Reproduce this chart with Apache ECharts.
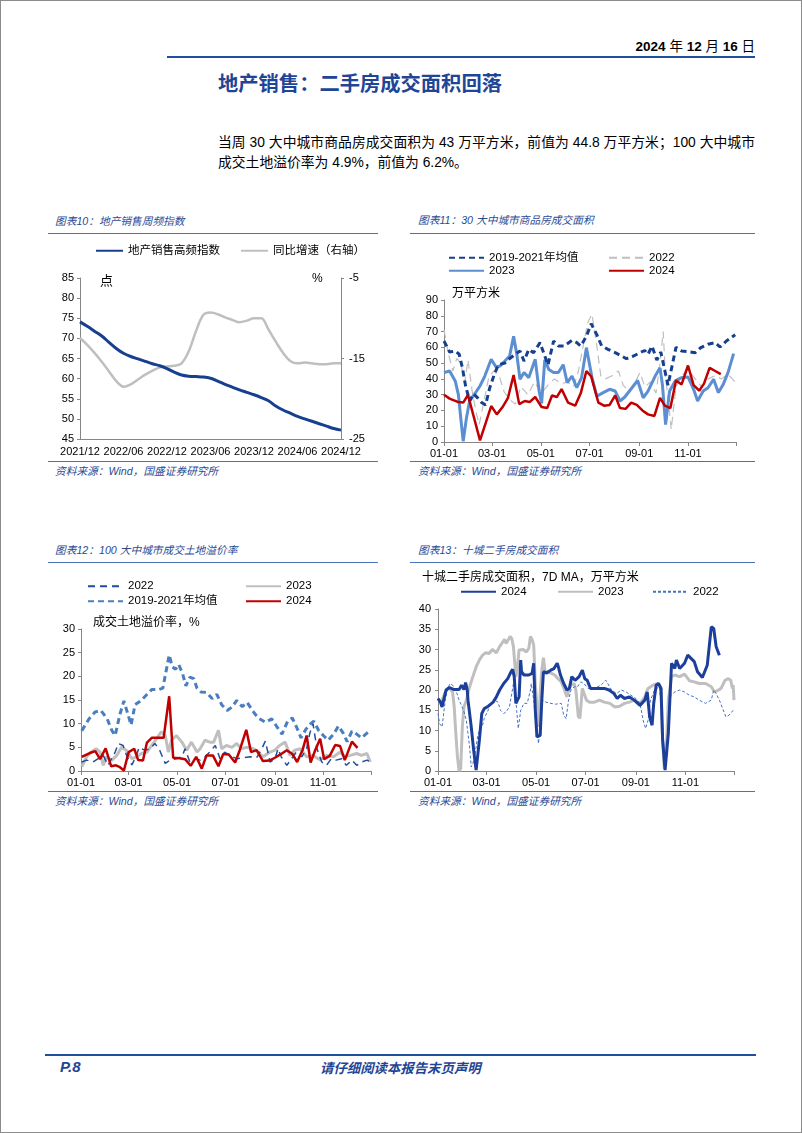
<!DOCTYPE html>
<html><head><meta charset="utf-8"><title>地产销售：二手房成交面积回落</title>
<script src="https://cdn.jsdelivr.net/npm/echarts@6.0.0/dist/echarts.min.js"></script>
<style>
html,body{margin:0;padding:0;background:#fff;width:802px;height:1133px;overflow:hidden;}
body{position:relative;font-family:'Liberation Sans','Noto Sans CJK SC',sans-serif;color:#000;}
#frame{position:absolute;left:0;top:0;width:802px;height:1133px;box-sizing:border-box;border:1px solid #8c8c8c;pointer-events:none;z-index:10;}
.t{position:absolute;white-space:nowrap;}
.rule{position:absolute;height:0;}
.cap{position:absolute;white-space:nowrap;font-style:italic;font-size:10.7px;line-height:14px;color:#2B4A94;font-family:'Liberation Sans','Noto Sans CJK SC',sans-serif;}
.chart{position:absolute;}
</style></head><body>
<div id="frame"></div>
<div class="t" style="right:47px;top:38px;font-size:13.5px;line-height:18px;"><b>2024</b> 年 <b>12</b> 月 <b>16</b> 日</div>
<div class="rule" style="left:167px;top:56px;width:588px;border-top:2px solid #1F4E9C;"></div>
<div class="t" style="left:218px;top:70px;font-size:20.3px;line-height:24px;font-weight:bold;color:#1F4596;font-family:'Noto Sans CJK SC',sans-serif;">地产销售：二手房成交面积回落</div>
<div class="t" style="left:218px;top:133px;width:537px;font-size:13.8px;line-height:20px;text-align:justify;text-align-last:justify;">当周 30 大中城市商品房成交面积为 43 万平方米，前值为 44.8 万平方米；100 大中城市</div>
<div class="t" style="left:218px;top:153px;font-size:13.8px;line-height:20px;">成交土地溢价率为 4.9%，前值为 6.2%。</div>

<div class="cap" style="left:55px;top:214px;">图表10：地产销售周频指数</div>
<div class="rule" style="left:48px;top:233px;width:330px;border-top:1.5px solid #4A72B8;"></div>
<div class="rule" style="left:48px;top:461px;width:330px;border-top:1.5px solid #4A72B8;"></div>
<div class="cap" style="left:55px;top:464px;">资料来源：Wind，国盛证券研究所</div>

<div class="cap" style="left:418px;top:213px;">图表11：30 大中城市商品房成交面积</div>
<div class="rule" style="left:410px;top:233px;width:345px;border-top:1.5px solid #4A72B8;"></div>
<div class="rule" style="left:410px;top:461px;width:345px;border-top:1.5px solid #4A72B8;"></div>
<div class="cap" style="left:418px;top:464px;">资料来源：Wind，国盛证券研究所</div>

<div class="cap" style="left:55px;top:543px;">图表12：100 大中城市成交土地溢价率</div>
<div class="rule" style="left:48px;top:562px;width:330px;border-top:1.5px solid #4A72B8;"></div>
<div class="rule" style="left:48px;top:791px;width:330px;border-top:1.5px solid #4A72B8;"></div>
<div class="cap" style="left:55px;top:794px;">资料来源：Wind，国盛证券研究所</div>

<div class="cap" style="left:418px;top:543px;">图表13：十城二手房成交面积</div>
<div class="rule" style="left:410px;top:562px;width:345px;border-top:1.5px solid #4A72B8;"></div>
<div class="rule" style="left:410px;top:791px;width:345px;border-top:1.5px solid #4A72B8;"></div>
<div class="cap" style="left:418px;top:794px;">资料来源：Wind，国盛证券研究所</div>

<div id="c10" class="chart" style="left:40px;top:238px;width:340px;height:222px;"></div>
<div id="c11" class="chart" style="left:405px;top:238px;width:350px;height:222px;"></div>
<div id="c12" class="chart" style="left:40px;top:566px;width:340px;height:224px;"></div>
<div id="c13" class="chart" style="left:405px;top:566px;width:350px;height:224px;"></div>

<div class="rule" style="left:45px;top:1054px;width:711px;border-top:2px solid #1F4E9C;"></div>
<div class="t" style="left:60px;top:1058px;font-size:15px;line-height:18px;font-weight:bold;font-style:italic;color:#1F4596;">P.8</div>
<div class="t" style="left:320px;top:1058px;font-size:13.4px;line-height:18px;font-weight:bold;font-style:italic;color:#1F4596;font-family:'Noto Sans CJK SC',sans-serif;">请仔细阅读本报告末页声明</div>

<script>
// ---------------- Chart 10 data ----------------
const c10Months = ['2021/12','2022/01','2022/02','2022/03','2022/04','2022/05','2022/06','2022/07','2022/08','2022/09','2022/10','2022/11','2022/12',
  '2023/01','2023/02','2023/03','2023/04','2023/05','2023/06','2023/07','2023/08','2023/09','2023/10','2023/11','2023/12',
  '2024/01','2024/02','2024/03','2024/04','2024/05','2024/06','2024/07','2024/08','2024/09','2024/10','2024/11','2024/12'];
const c10Index = [74.1,73.0,71.8,70.6,69.0,67.5,66.3,65.5,64.9,64.3,63.7,63.2,62.5,
  61.6,60.9,60.6,60.5,60.4,60.1,59.4,58.6,57.9,57.2,56.6,56.0,
  55.3,54.5,53.2,52.2,51.4,50.6,50.0,49.4,48.8,48.2,47.6,47.2];
const c10YoY = [-12.45,-13.3,-14.3,-15.4,-16.6,-17.8,-18.5,-18.2,-17.6,-17.0,-16.5,-16.1,-16.0,
  -15.9,-15.6,-14.1,-11.6,-9.6,-9.3,-9.5,-9.9,-10.2,-10.5,-10.3,-10.0,
  -10.0,-11.4,-12.9,-14.3,-15.3,-15.6,-15.5,-15.6,-15.7,-15.7,-15.6,-15.6];

// ---------------- Shared daily axis ticks ----------------
const monthTicks = ['01-01','03-01','05-01','07-01','09-01','11-01'];

// ---------------- Chart 11 data (万平方米) ----------------
const c11Avg = [['01-01',64],['01-08',57],['01-15',57.7],['01-20',55.6],['01-24',47],['01-28',35.5],['02-02',26],['02-07',30.5],['02-12',28],['02-17',25],['02-22',23.5],['02-27',34],['03-04',43],['03-09',49],['03-17',50],['03-23',52.8],['03-30',55.6],['04-05',57.7],['04-10',51.3],['04-16',58.7],['04-22',56.6],['04-30',63],['05-10',48.8],['05-17',64],['05-23',60.8],['05-30',60.8],['06-09',64.4],['06-15',63],['06-20',60.8],['06-27',67],['07-03',75],['07-10',68],['07-16',61],['07-24',58.7],['08-02',56.6],['08-10',54.5],['08-16',52.8],['08-25',54.5],['09-02',56.6],['09-08',58],['09-12',55.6],['09-17',60.8],['09-23',52],['09-28',57],['10-07',36],['10-17',60],['10-24',57.7],['11-01',57.3],['11-10',56.6],['11-17',59.8],['11-26',62],['12-05',63],['12-11',60.2],['12-19',64],['12-30',68]];
const c11Y2022 = [['01-01',71],['01-07',55],['01-12',45],['01-17',53],['01-22',50],['01-27',38],['01-31',52],['02-05',33],['02-10',19],['02-14',11],['02-20',26],['02-26',41],['03-03',45],['03-10',42],['03-16',32],['03-23',27],['03-30',24],['04-06',35],['04-15',30],['04-23',38],['05-02',31],['05-10',36],['05-18',40],['05-26',37],['06-04',38],['06-11',35],['06-17',45],['06-23',61],['06-29',76],['07-04',81],['07-10',61],['07-15',42],['07-21',40],['07-29',42],['08-06',45],['08-12',36],['08-19',32],['08-27',38],['09-02',44],['09-08',35],['09-15',38],['09-22',31],['09-27',50],['10-01',70],['10-04',40],['10-07',29],['10-11',8],['10-17',35],['10-24',42],['11-01',46],['11-10',40],['11-18',35],['11-26',40],['12-05',42],['12-13',40],['12-21',43],['12-30',38]];
const c11Y2023 = [['01-01',44],['01-08',45],['01-15',38.7],['01-19',30],['01-22',15],['01-25',0.5],['01-29',15],['02-02',26],['02-09',31],['02-15',35.5],['02-21',41.8],['02-29',52.4],['03-06',47.5],['03-11',48.2],['03-17',51.3],['03-23',54.5],['03-28',67],['04-01',55.6],['04-05',39.7],['04-10',44],['04-16',40.8],['04-24',52.4],['04-29',32],['05-02',24.5],['05-06',52],['05-11',46],['05-17',44],['05-23',44],['05-29',49],['06-03',37.6],['06-09',41.8],['06-15',34.4],['06-21',40.8],['06-27',59.8],['07-04',40.8],['07-10',29],['07-18',31.3],['07-26',33.4],['08-02',32.3],['08-08',26],['08-14',28.5],['08-23',34.4],['08-30',39],['09-06',28],['09-12',32.3],['09-21',41.8],['09-27',47],['09-30',36.5],['10-04',11],['10-09',32.3],['10-16',38.7],['10-24',40.8],['11-01',41.2],['11-08',33.4],['11-13',26],['11-20',32.3],['11-26',34.4],['12-03',39.7],['12-09',31.3],['12-15',36.5],['12-21',44],['12-28',56]];
const c11Y2024 = [['01-01',30],['01-08',27.5],['01-19',25.3],['01-25',25],['01-31',29.8],['02-15',1],['02-29',22.8],['03-07',17.5],['03-14',22],['03-21',28],['03-28',42.5],['04-04',24],['04-11',26],['04-17',25.3],['04-24',28.5],['05-02',22.2],['05-09',21.5],['05-15',29.5],['05-21',28.5],['05-27',33.5],['06-04',25],['06-13',23],['06-20',31],['06-27',45],['07-03',41.5],['07-12',25],['07-19',23],['07-26',23.5],['08-02',29.5],['08-08',21.5],['08-15',21],['08-22',25],['08-29',23.5],['09-05',20],['09-12',17.5],['09-20',16.5],['09-27',28],['10-03',23],['10-10',21.5],['10-17',39],['10-24',36.5],['11-01',48.5],['11-08',36],['11-15',32.5],['11-21',37],['11-28',47],['12-05',45],['12-12',43]];

// ---------------- Chart 12 data (%) ----------------
const c12Y2022 = [['01-02',1.9],['01-08',2.3],['01-16',1.9],['01-29',3.3],['02-04',1.2],['02-13',4],['02-17',5.8],['02-23',5.4],['02-28',3],['03-05',1.3],['03-11',3.3],['03-14',5],['03-21',4.4],['03-28',4.7],['04-03',5.8],['04-09',4.4],['04-16',1.6],['04-22',2.3],['04-30',2.6],['05-07',3],['05-11',4.7],['05-17',1.9],['05-24',2.6],['05-30',2.3],['06-05',3],['06-11',4],['06-18',5.4],['06-24',2.6],['06-30',4],['07-06',3.3],['07-15',2.6],['07-23',2.8],['08-01',3],['08-09',2.8],['08-15',4.5],['08-20',6.3],['08-26',1.9],['09-01',2.5],['09-05',4.7],['09-09',3],['09-16',1.2],['09-22',2.6],['09-28',4],['10-05',3],['10-11',4.7],['10-15',8],['10-19',10],['10-24',4.7],['10-30',1.9],['11-05',1.2],['11-11',2.6],['11-17',2.3],['11-24',2.6],['11-30',1.2],['12-07',2.3],['12-13',1.2],['12-19',1.9],['12-26',2.3],['12-30',1.9]];
const c12Y2023 = [['01-02',0.9],['01-08',3],['01-14',4],['01-20',4.7],['01-25',4],['01-29',1.2],['02-02',3],['02-09',2.3],['02-15',3.3],['02-21',5],['02-27',4.4],['03-05',2.6],['03-11',3],['03-17',3.7],['03-24',4],['03-30',5.4],['04-05',6.8],['04-11',8.3],['04-16',7.5],['04-20',4],['04-24',6.5],['04-30',7.5],['05-07',6.1],['05-13',4.4],['05-19',6.1],['05-26',4],['05-30',4.7],['06-05',6.5],['06-11',6.1],['06-16',6.1],['06-22',8.6],['06-26',4.7],['07-02',5.4],['07-09',5],['07-15',5.8],['07-21',4.7],['07-27',5],['08-05',4.7],['08-11',4],['08-17',3],['08-26',4],['09-01',4.4],['09-07',5.4],['09-14',6.1],['09-20',3.3],['09-26',4.4],['10-03',4.7],['10-11',3],['10-19',3.3],['10-28',2.3],['11-05',3.3],['11-14',3],['11-22',4],['11-28',3],['12-05',3.3],['12-13',3.7],['12-19',3.3],['12-26',3.7],['12-30',1.9]];
const c12Avg = [['01-02',8.5],['01-11',11],['01-19',12.5],['01-26',12.8],['02-03',11],['02-09',8.5],['02-13',7.5],['02-19',12],['02-24',14.8],['02-29',12],['03-04',9.7],['03-09',14],['03-16',14.8],['03-23',16],['03-30',17.2],['04-08',17.2],['04-13',17.5],['04-17',21],['04-21',24.5],['04-25',22],['04-29',21.5],['05-03',22.5],['05-08',20.5],['05-12',18],['05-17',19.8],['05-22',19.5],['05-26',17.5],['05-31',16.7],['06-07',16.6],['06-14',15.3],['06-20',16.2],['06-26',14],['07-03',12.8],['07-09',13.5],['07-15',14.9],['07-22',13.6],['07-28',14.5],['08-05',12.5],['08-11',11.2],['08-20',10.3],['08-28',11],['09-03',9.5],['09-10',7.8],['09-17',10.5],['09-23',11.2],['09-29',9],['10-04',7],['10-10',8.8],['10-16',10],['10-20',10.5],['10-26',8.6],['11-01',7.5],['11-07',6.5],['11-14',7.8],['11-20',9.5],['11-26',8],['12-01',6.2],['12-07',8.4],['12-13',7.8],['12-19',7],['12-28',8.3]];
const c12Y2024 = [['01-02',3],['01-12',3.8],['01-19',4.2],['01-25',2.5],['02-01',4.8],['02-08',1],['02-14',1.2],['02-19',0.8],['02-24',0.1],['03-01',4],['03-08',4.7],['03-13',2.3],['03-19',2.2],['03-24',6],['03-30',7],['04-06',7],['04-14',7],['04-21',15.8],['04-26',2.8],['05-04',2.7],['05-11',2.5],['05-18',1.1],['05-25',3],['06-01',0.5],['06-07',3.3],['06-15',3.3],['06-22',1],['06-28',3.6],['07-05',3.5],['07-13',1.8],['07-19',4.5],['07-27',8.7],['08-02',4],['08-09',4.4],['08-17',2.1],['08-25',2.2],['09-01',2.8],['09-08',3.5],['09-16',4.4],['09-23',3.6],['09-29',1.9],['10-06',4.5],['10-11',7.5],['10-16',1.8],['10-22',4.5],['10-28',6.8],['11-02',2.5],['11-09',3.2],['11-16',5.5],['11-22',5.3],['11-28',2.3],['12-07',6.2],['12-14',4.9]];

// ---------------- Chart 13 data (万平方米, 7D MA) ----------------
const c13Y2024 = [['01-01',17.9],['01-04',17],['01-06',15.8],['01-08',17.5],['01-11',20],['01-15',20.6],['01-21',20.1],['01-27',20.1],['01-30',21.2],['02-02',20.1],['02-04',21.8],['02-06',20.1],['02-07',17.5],['02-11',10.9],['02-14',5.1],['02-17',0.2],['02-19',0.6],['02-21',7.6],['02-24',14.2],['02-27',15.4],['03-03',16],['03-09',17],['03-13',18.3],['03-17',20],['03-22',21.6],['03-27',22.8],['03-31',24.5],['04-02',25.1],['04-04',23.3],['04-06',16.7],['04-08',17.5],['04-10',18.3],['04-12',27.4],['04-13',24.5],['04-16',23.7],['04-22',23.7],['04-26',24.1],['04-28',26.6],['04-30',15],['05-02',8.4],['05-06',8.8],['05-08',17.5],['05-10',24.5],['05-14',24.2],['05-19',24.9],['05-23',25.3],['05-27',26.6],['05-29',25.3],['05-31',23.7],['06-04',21.6],['06-08',20],['06-11',20.4],['06-14',23.3],['06-18',22.4],['06-23',23.3],['06-27',24.9],['06-30',22.8],['07-03',22.4],['07-07',20.4],['07-16',20.4],['07-24',20.4],['07-30',20],['08-05',19.1],['08-09',17.9],['08-13',18.7],['08-18',17.9],['08-24',18.3],['08-30',17.5],['09-06',16.2],['09-12',17.5],['09-15',19.5],['09-18',13.4],['09-21',11.3],['09-23',16.7],['09-26',21.2],['09-29',21.6],['10-02',20.4],['10-04',7.6],['10-07',0.2],['10-11',9.2],['10-15',26.6],['10-19',25.3],['10-21',27.4],['10-25',25.3],['10-31',26.6],['11-04',28.6],['11-08',27.8],['11-12',27],['11-16',24.5],['11-22',23.1],['11-28',26.1],['12-03',35.6],['12-06',35.2],['12-09',30.7],['12-13',28.6]];
const c13Y2023 = [['01-05',17],['01-11',20],['01-15',20.5],['01-19',19.5],['01-21',15.8],['01-23',9.2],['01-25',3.5],['01-27',0],['01-29',0.6],['01-31',10.9],['02-02',15.8],['02-05',17.5],['02-09',20.8],['02-13',23.3],['02-17',25.7],['02-21',27.4],['02-25',28.6],['02-29',29.2],['03-04',29],['03-08',30],['03-13',29.2],['03-17',30.7],['03-21',31.9],['03-23',32.5],['03-25',31.5],['03-27',31.9],['03-30',33.2],['04-01',32.7],['04-03',30.7],['04-06',23.3],['04-08',25.7],['04-10',29.9],['04-15',30],['04-19',29.4],['04-22',30.3],['04-24',33.2],['04-26',32.5],['04-28',31.1],['04-30',21.6],['05-02',15.8],['05-04',10.9],['05-06',19.1],['05-08',24.9],['05-10',28],['05-12',24.5],['05-15',24.5],['05-20',24.1],['05-24',23.7],['05-28',22.8],['06-01',22],['06-05',20],['06-08',18.3],['06-11',20.4],['06-13',21.2],['06-17',21.6],['06-19',20],['06-22',13.5],['06-24',13],['06-27',20.4],['07-02',17.5],['07-06',17],['07-12',17],['07-18',17.5],['07-24',17],['07-31',16.7],['08-06',15.8],['08-12',16],['08-18',16.7],['08-24',17],['08-30',17.5],['09-06',16.7],['09-12',18.3],['09-16',20.4],['09-22',21.2],['09-28',21.6],['10-02',20.4],['10-04',7.6],['10-06',0.6],['10-09',7.6],['10-11',17.5],['10-15',23.3],['10-19',23.7],['10-25',23.3],['10-31',23.9],['11-06',22.3],['11-12',22],['11-18',21.6],['11-26',21.6],['12-03',20.8],['12-07',19.5],['12-11',19.9],['12-15',20.4],['12-20',22.4],['12-24',22.8],['12-27',22.4],['12-29',20.4],['12-30',21.2],['12-31',17.5]];
const c13Y2022 = [['01-01',14.2],['01-03',11.7],['01-06',10.9],['01-08',11.3],['01-10',17.5],['01-13',20.4],['01-16',21.6],['01-19',21.2],['01-23',20],['01-27',17.5],['01-30',16.2],['02-02',14.6],['02-05',12.5],['02-07',9.2],['02-09',5.9],['02-11',1],['02-13',1.8],['02-15',3.5],['02-17',5.9],['02-19',8.8],['02-22',10.5],['02-25',11.3],['02-27',13],['03-02',14.6],['03-06',16.7],['03-11',17.5],['03-15',17],['03-18',15],['03-22',14.2],['03-25',14.6],['03-29',15.8],['04-01',19.1],['04-03',21.6],['04-05',20],['04-07',15],['04-09',10.5],['04-12',15],['04-16',16.7],['04-20',16.7],['04-24',20],['04-25',21.6],['04-28',17.5],['05-01',10.9],['05-04',6.8],['05-06',11.7],['05-09',17.5],['05-13',17],['05-19',16.7],['05-25',16.5],['06-01',16.7],['06-04',13.8],['06-07',12.9],['06-10',17.5],['06-13',20],['06-17',20.8],['06-21',20.8],['06-25',22],['06-29',21.6],['07-04',20.4],['07-12',20.4],['07-20',21.2],['07-26',22.4],['08-02',20],['08-08',19.1],['08-14',20],['08-20',19.5],['08-26',18.7],['09-01',17.9],['09-06',16.7],['09-10',12.5],['09-13',10.5],['09-16',12.5],['09-19',17.5],['09-24',20],['09-30',20.8],['10-03',15],['10-06',4.3],['10-07',1],['10-11',10.9],['10-14',18.7],['10-19',19.5],['10-25',20],['10-31',19.5],['11-06',18.7],['11-12',18.3],['11-18',17.5],['11-26',16.7],['12-03',17.5],['12-06',20],['12-09',19.1],['12-13',17.5],['12-17',15.4],['12-21',13.4],['12-25',13.8],['12-30',15]];

// ---------------- helpers ----------------
const FONT = "'Liberation Sans','Noto Sans CJK SC',sans-serif";
const AX = '#868686';
const NAVY = '#173F8F';
const RED = '#C00000';
const GRAY = '#BFBFBF';
const LBL = 11;

// calendar categories MM-DD for a full (leap) year, used as the x-axis scale
const dayCats = [];
for (let d = new Date(Date.UTC(2024, 0, 1)); d.getUTCFullYear() === 2024; d.setUTCDate(d.getUTCDate() + 1)) {
  dayCats.push(String(d.getUTCMonth() + 1).padStart(2, '0') + '-' + String(d.getUTCDate()).padStart(2, '0'));
}

function leg(name, left, top, w) {
  return {data: [name], left: left, top: top, itemWidth: w || 35, itemHeight: 14, itemGap: 0, padding: 0,
    selectedMode: false, itemStyle: {opacity: 0, borderWidth: 0},
    textStyle: {color: '#000', fontSize: 11.5, fontFamily: FONT}};
}
function txt(s, left, top, size) {
  return {type: 'text', left: left, top: top, silent: true, style: {text: s, fill: '#000', font: size + 'px ' + FONT}};
}
function line(name, data, color, width, dash, z) {
  return {name: name, type: 'line', data: data, symbol: 'none', showSymbol: false, smooth: false,
    lineStyle: {color: color, width: width, type: dash || 'solid', cap: 'butt'}, itemStyle: {color: color},
    z: z || 2, emphasis: {disabled: true}};
}
function valAxis(min, max, interval, pos, margin) {
  return {type: 'value', min: min, max: max, interval: interval, position: pos || 'left',
    axisLine: {show: true, lineStyle: {color: AX, width: 1}},
    axisTick: {show: true, length: 3, lineStyle: {color: AX}},
    axisLabel: {color: '#000', fontSize: LBL, fontFamily: FONT, margin: margin || 6},
    splitLine: {show: false}};
}
function dayAxis() {
  const isTick = (i, v) => monthTicks.indexOf(v) >= 0;
  return {type: 'category', data: dayCats, boundaryGap: false,
    axisLine: {show: true, lineStyle: {color: AX, width: 1}},
    axisTick: {show: true, length: 4, interval: (i, v) => isTick(i, v) || i === dayCats.length - 1, lineStyle: {color: AX}},
    axisLabel: {interval: isTick, color: '#000', fontSize: LBL, fontFamily: FONT, margin: 6},
    splitLine: {show: false}};
}

// ---------------- Chart 10 ----------------
echarts.init(document.getElementById('c10')).setOption({
  animation: false,
  grid: {left: 40, top: 40, width: 261, height: 161},
  legend: [leg('地产销售高频指数', 55, 7, 27), leg('同比增速（右轴）', 200, 7, 27)],
  xAxis: {type: 'category', data: c10Months, boundaryGap: false,
    axisLine: {lineStyle: {color: AX}}, axisTick: {show: false},
    axisLabel: {interval: 5, color: '#000', fontSize: 11, fontFamily: FONT, margin: 7}},
  yAxis: [valAxis(45, 85, 5, 'left', 6), valAxis(-25, -5, 10, 'right', 8)],
  graphic: [txt('点', 60, 37, 13), txt('%', 272, 35, 12)],
  series: [
    Object.assign(line('同比增速（右轴）', c10YoY, GRAY, 2.5), {yAxisIndex: 1, smooth: 0.35}),
    Object.assign(line('地产销售高频指数', c10Index, NAVY, 3), {smooth: 0.35, z: 3})
  ]
});

// ---------------- Chart 11 ----------------
echarts.init(document.getElementById('c11')).setOption({
  animation: false,
  grid: {left: 39, top: 62, width: 292, height: 142},
  legend: [leg('2019-2021年均值', 43, 14), leg('2022', 203, 14), leg('2023', 43, 27), leg('2024', 203, 27)],
  xAxis: dayAxis(),
  yAxis: valAxis(0, 90, 10),
  graphic: [txt('万平方米', 47, 50, 12)],
  series: [
    line('2022', c11Y2022, GRAY, 1.2, [8, 5], 1),
    line('2023', c11Y2023, '#5B8FD1', 3, null, 2),
    line('2019-2021年均值', c11Avg, NAVY, 3, [6, 4], 3),
    line('2024', c11Y2024, RED, 2.5, null, 4)
  ]
});

// ---------------- Chart 12 ----------------
echarts.init(document.getElementById('c12')).setOption({
  animation: false,
  grid: {left: 41, top: 63, width: 290, height: 142},
  legend: [leg('2022', 47, 14.5), leg('2023', 205, 14.5), leg('2019-2021年均值', 47, 29.5), leg('2024', 205, 29.5)],
  xAxis: dayAxis(),
  yAxis: valAxis(0, 30, 5),
  graphic: [txt('成交土地溢价率，%', 53, 51, 12)],
  series: [
    line('2023', c12Y2023, GRAY, 3, null, 1),
    line('2019-2021年均值', c12Avg, '#4A7EC1', 3, [6, 4], 2),
    line('2022', c12Y2022, '#1F4E9C', 1.5, [7, 5], 3),
    line('2024', c12Y2024, RED, 2.5, null, 4)
  ]
});

// ---------------- Chart 13 ----------------
echarts.init(document.getElementById('c13')).setOption({
  animation: false,
  grid: {left: 33, top: 43, width: 296, height: 162},
  legend: [leg('2024', 55, 20), leg('2023', 152, 20), leg('2022', 247, 20)],
  xAxis: dayAxis(),
  yAxis: valAxis(0, 40, 5, 'left', 7),
  graphic: [txt('十城二手房成交面积，7D MA，万平方米', 17, 6, 12)],
  series: [
    line('2023', c13Y2023, GRAY, 3, null, 1),
    line('2022', c13Y2022, '#4472C4', 1, [3, 2], 2),
    line('2024', c13Y2024, '#1B3F9A', 3, null, 3)
  ]
});
</script>
</body></html>
